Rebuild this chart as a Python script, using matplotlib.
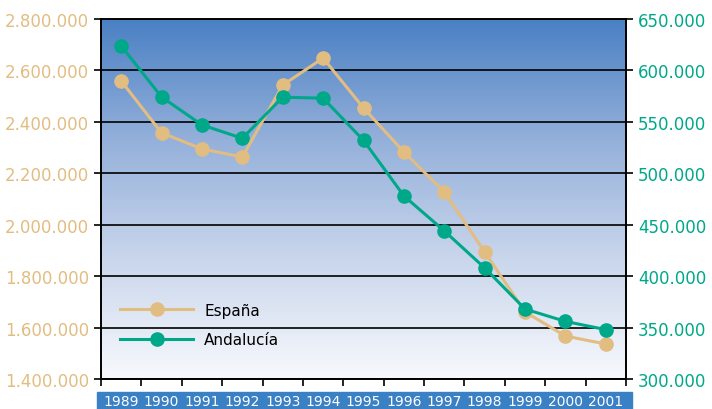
import numpy as np
import matplotlib.pyplot as plt
from matplotlib.colors import LinearSegmentedColormap
from matplotlib.patches import Rectangle

years = ["1989", "1990", "1991", "1992", "1993", "1994", "1995",
         "1996", "1997", "1998", "1999", "2000", "2001"]
espana = [2559000, 2357000, 2295000, 2263000, 2543000, 2648000, 2454000,
          2283000, 2127000, 1894000, 1661000, 1567000, 1536000]
andalucia = [623800, 574200, 547000, 534000, 574000, 573000, 532000,
             478000, 444000, 408000, 368000, 356000, 348000]

tan = "#E2BD82"
green = "#00A88A"


def fmt(v, pos=None):
    return f"{int(v):,}".replace(",", ".")


fig = plt.figure(figsize=(7.12, 4.10), dpi=100)
ax = fig.add_axes([101 / 712, 30 / 410, 525 / 712, 360 / 410])
ax2 = ax.twinx()

# blue band behind the year labels
fig.patches.append(Rectangle((97 / 712, 0), 535 / 712, 17 / 410,
                             transform=fig.transFigure, color="#3A80C5",
                             zorder=-1))

# gradient background
cmap = LinearSegmentedColormap.from_list(
    "bg", ["#F8F9FD", "#C9D6EC", "#94B0DA", "#4A80C4"])
grad = np.linspace(0, 1, 256).reshape(-1, 1)
ax.imshow(grad, aspect="auto", cmap=cmap, origin="lower",
          extent=[0, 1, 0, 1], transform=ax.transAxes, zorder=0)

x = np.arange(len(years))
ax.set_xlim(-0.5, len(years) - 0.5)
ax.set_ylim(1400000, 2800000)
ax2.set_ylim(300000, 650000)
ax.set_yticks(np.arange(1400000, 2800001, 200000))
ax2.set_yticks(np.arange(300000, 650001, 50000))
ax.yaxis.set_major_formatter(plt.FuncFormatter(fmt))
ax2.yaxis.set_major_formatter(plt.FuncFormatter(fmt))
ax.grid(axis="y", color="black", linewidth=1.2, zorder=1)

ax.set_xticks(np.arange(-0.5, len(years), 1))
ax.set_xticklabels([])
ax.set_xticks(x, minor=True)
ax.set_xticklabels(years, minor=True)
ax.tick_params(axis="x", which="major", length=5, width=1.2, direction="out")
ax.tick_params(axis="x", which="minor", length=0, pad=11, labelsize=10,
               labelcolor="white")
ax.tick_params(axis="y", length=5, width=1.2, labelsize=12, labelcolor=tan)
ax2.tick_params(axis="y", length=5, width=1.2, labelsize=12, labelcolor=green)

for sp in ["left", "right", "top", "bottom"]:
    ax2.spines[sp].set_linewidth(1.2)
    ax.spines[sp].set_linewidth(1.2)

l1, = ax.plot(x, espana, color=tan, lw=2.2, marker="o", ms=9.5,
              label="España", zorder=3)
l2, = ax2.plot(x, andalucia, color=green, lw=2.2, marker="o", ms=9.5,
               label="Andalucía", zorder=3)

ax2.legend([l1, l2], ["España", "Andalucía"], loc="lower left",
           bbox_to_anchor=(0.01, 0.05), frameon=False, fontsize=11,
           handlelength=4.8, labelspacing=0.95, handletextpad=0.7)
ax2.patch.set_visible(False)

fig.savefig("out.png", dpi=100)
